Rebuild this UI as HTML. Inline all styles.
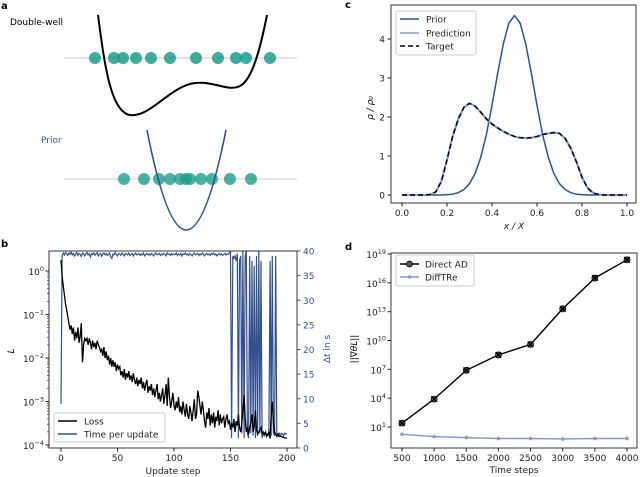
<!DOCTYPE html>
<html><head><meta charset="utf-8">
<style>
html,body{margin:0;padding:0;background:#fff;}
svg{display:block;font-family:"DejaVu Sans","Liberation Sans",sans-serif;}
</style></head>
<body>
<svg id="fig" width="640" height="477" viewBox="0 0 640 477" xmlns="http://www.w3.org/2000/svg">
<g>
<text x="1" y="9" font-size="10" font-weight="bold">a</text>
<text x="10" y="25" font-size="9">Double-well</text>
<line x1="64" y1="58" x2="297" y2="58" stroke="#c8c8c8" stroke-width="1"/>
<g id="dw-dots"></g>
<path d="M98,15 C104,60 110,112 130,115 C150,118 170,86 195,83 C215,81 228,92 240,86 C252,80 260,50 267,15" fill="none" stroke="#000" stroke-width="2"/>
<text x="41" y="143" font-size="9" fill="#3b5a9a">Prior</text>
<line x1="64" y1="179" x2="297" y2="179" stroke="#c8c8c8" stroke-width="1"/>
<g id="pr-dots"></g>
<path d="M147,130 Q186,330 226,130" fill="none" stroke="#34508f" stroke-width="1.6"/>
</g>
<g id="pb"></g>
<g id="pc"></g>
<g id="pd"></g>
</svg>
<script>
const NS="http://www.w3.org/2000/svg";
// panel a particle positions (schematic)
const dwDots=[95,114,123,136,151,170,196,218,236,246,270];
const prDots=[124,144,159,170,180,186,190,201,212,230,251];
// panel b data
const lossLog=[0.25,-0.1,-0.35,-0.55,-0.75,-0.9,-1.05,-1.2,-1.35,-1.25,
-1.45,-1.3,-1.6,-1.4,-1.55,-1.3,-1.65,-1.5,-1.2,-2.1,
-1.7,-1.55,-1.6,-1.55,-1.7,-1.55,-1.65,-1.8,-1.6,-1.75,
-1.65,-1.8,-1.6,-1.7,-1.75,-1.85,-1.8,-1.95,-1.75,-2.0,
-1.85,-2.05,-1.95,-2.15,-2.0,-2.2,-2.05,-2.2,-2.1,-2.3,
-2.15,-2.25,-2.2,-2.4,-2.3,-2.45,-2.25,-2.5,-2.35,-2.45,
-2.3,-2.5,-2.4,-2.55,-2.35,-2.5,-2.6,-2.45,-2.65,-2.5,
-2.6,-2.45,-2.7,-2.55,-2.75,-2.6,-2.5,-2.8,-2.65,-2.75,
-2.6,-2.85,-2.7,-2.9,-2.75,-2.6,-2.95,-2.8,-3.0,-2.85,
-2.7,-3.05,-2.85,-2.6,-3.1,-2.45,-2.9,-3.15,-3.0,-2.8,
-3.1,-3.2,-3.0,-3.15,-2.9,-3.25,-3.1,-3.3,-3.0,-3.2,
-3.35,-3.05,-3.3,-3.4,-3.1,-3.25,-3.45,-3.2,-2.95,-3.4,
-3.3,-2.75,-2.9,-3.1,-3.3,-3.0,-3.2,-3.45,-3.6,-3.25,
-3.4,-3.15,-3.55,-3.3,-3.5,-3.25,-3.6,-3.35,-3.45,-3.2,
-3.55,-3.3,-3.5,-3.4,-3.35,-3.6,-3.4,-3.3,-3.5,-3.45,
-3.65,-3.5,-3.6,-3.4,-3.7,-3.45,-3.55,-3.3,-3.6,-3.7,
-3.5,-3.2,-2.85,-3.4,-3.7,-3.6,-3.75,-3.6,-3.5,-3.3,
-3.7,-3.55,-3.2,-3.65,-3.75,-3.7,-3.65,-3.6,-3.75,-3.7,
-3.75,-3.7,-3.8,-3.75,-3.7,-3.85,-3.3,-3.0,-3.5,-3.7,
-3.75,-3.8,-3.75,-3.8,-3.8,-3.8,-3.82,-3.82,-3.84,-3.84,-3.84];
const timeVals=[9,39,39.6,39.2,39.7,39.4,39.1,39.6,39.3,39.8,
39.2,39.5,39.0,39.4,39.7,39.1,39.5,39.3,38.9,39.6,
39.4,39.0,39.5,39.7,39.2,39.4,38.8,39.5,39.3,39.6,
39.1,39.4,39.7,39.0,39.3,39.5,38.9,39.4,39.6,39.2,
39.5,39.1,39.3,39.6,38.8,38.5,39.4,39.2,39.7,39.3,
39.0,39.5,39.4,39.1,39.6,39.3,39.0,39.5,39.4,39.2,
39.6,39.1,39.3,39.5,39.0,39.4,39.6,39.2,39.3,39.5,
39.1,39.4,39.2,39.6,39.0,39.3,39.5,39.2,39.4,39.1,
39.5,39.3,39.0,39.4,39.6,39.2,39.3,39.5,39.1,39.4,
39.2,39.5,39.3,39.0,39.6,39.3,39.4,39.1,39.5,39.2,
39.4,39.3,39.6,39.1,39.4,39.2,39.5,39.0,39.4,39.3,
39.6,39.2,39.4,39.1,39.5,39.3,39.0,39.4,39.6,39.2,
39.3,39.5,39.1,39.4,39.2,39.6,39.3,39.0,39.4,39.5,
39.2,39.4,39.1,39.5,39.3,39.6,39.2,39.4,39.0,39.3,
39.5,39.2,39.4,39.1,39.3,39.5,39.2,39.4,39.3,39.6,
40,2,39,38.5,39,38,39.5,2,38,39,
3,40,2,39,40,3,2,39,3,38,
2.5,37,2,39,2.5,40,3,38,2,3,
2.5,3,2.5,2.5,2.5,38,2.5,39,3,2.5,
39,3,2.5,3,2.5,3,2.8,2.5,3,2.8,2.9];
const bXTicks=[0,50,100,150,200];
const bLogTicks=[0,-1,-2,-3,-4];
const bRTicks=[0,5,10,15,20,25,30,35,40];
// panel c data
const cX=[0,0.025,0.05,0.075,0.1,0.125,0.15,0.175,0.2,0.225,0.25,0.275,0.3,0.325,0.35,0.375,0.4,0.425,0.45,0.475,0.5,0.525,0.55,0.575,0.6,0.625,0.65,0.675,0.7,0.725,0.75,0.775,0.8,0.825,0.85,0.875,0.9,0.925,0.95,0.975,1];
const cPrior=[0,0,0,0,0,0,0,0,0.01,0.02,0.06,0.14,0.29,0.55,0.97,1.55,2.3,3.11,3.87,4.41,4.6,4.41,3.87,3.11,2.3,1.55,0.97,0.55,0.29,0.14,0.06,0.02,0.01,0,0,0,0,0,0,0,0];
const cTarget=[0,0,0,0,0,0.01,0.08,0.35,0.9,1.5,1.95,2.25,2.35,2.28,2.12,1.95,1.82,1.72,1.63,1.56,1.5,1.47,1.46,1.47,1.5,1.55,1.58,1.6,1.58,1.45,1.2,0.85,0.45,0.18,0.05,0.01,0,0,0,0,0];
const cPrediction=[0,0,0,0,0,0.01,0.08,0.35,0.9,1.5,1.95,2.25,2.35,2.28,2.12,1.95,1.82,1.72,1.63,1.56,1.5,1.47,1.46,1.47,1.5,1.55,1.58,1.6,1.58,1.45,1.2,0.85,0.45,0.18,0.05,0.01,0,0,0,0,0];
const cXTicks=[0,0.2,0.4,0.6,0.8,1.0];
const cYTicks=[0,1,2,3,4];
// panel d data
const dSteps=[500,1000,1500,2000,2500,3000,3500,4000];
const dDirectLog=[1.4,3.9,6.9,8.5,9.6,13.3,16.5,18.4];
const dDiffLog=[0.24,0.0,-0.1,-0.2,-0.2,-0.25,-0.2,-0.2];
const dXTicks=[500,1000,1500,2000,2500,3000,3500,4000];
const dYTicks=[1,4,7,10,13,16,19];

const BLUE="#34508f", LIGHT="#8a9cc6";
function el(tag,attrs,parent){const e=document.createElementNS(NS,tag);for(const k in attrs)e.setAttribute(k,attrs[k]);parent.appendChild(e);return e;}
function txt(s,attrs,parent){const e=el('text',attrs,parent);e.textContent=s;return e;}
function pow10(e,x,y,anchor,parent,fill){const t=el('text',{x:x,y:y,'font-size':9,'text-anchor':anchor,fill:fill||'#222'},parent);
 
 const a=document.createElementNS(NS,'tspan');a.textContent='10';t.appendChild(a);
 const b=document.createElementNS(NS,'tspan');b.setAttribute('dy','-4');b.setAttribute('font-size','6.5');b.textContent=(e<0?'\u2212'+(-e):''+e);t.appendChild(b);}

// panel a dots
const dwg=document.getElementById('dw-dots');
dwDots.forEach(x=>{const c=el('circle',{cx:x,cy:58,r:6,fill:'#1f9e8a','fill-opacity':0.85},dwg);});
const prg=document.getElementById('pr-dots');
prDots.forEach(x=>{const c=el('circle',{cx:x,cy:179,r:6,fill:'#1f9e8a','fill-opacity':0.8},prg);});

// ---------- panel b ----------
(function(){
const g=document.getElementById('pb');
const L=49,R=297,T=251,B=448;
const xs=v=>61+(v/200)*(287-61);
const yl=lg=>271+(0-lg)*43.5;
const yr=v=>B-(v/40)*(B-T);
const lbl=txt('b',{x:1,y:247,'font-size':10,'font-weight':'bold'},g);

const clip=el('clipPath',{id:'clipb'},g);el('rect',{x:L,y:T,width:R-L,height:B-T},clip);
let p='';timeVals.forEach((v,i)=>{p+=(i?'L':'M')+xs(i).toFixed(1)+','+yr(v).toFixed(1);});
const tl=el('path',{d:p,fill:'none',stroke:BLUE,'stroke-width':1.2,'clip-path':'url(#clipb)'},g);

p='';lossLog.forEach((v,i)=>{p+=(i?'L':'M')+xs(i).toFixed(1)+','+yl(v).toFixed(1);});
const ll=el('path',{d:p,fill:'none',stroke:'#000','stroke-width':1.3,'clip-path':'url(#clipb)'},g);

const fr=el('rect',{x:L,y:T,width:R-L,height:B-T,fill:'none',stroke:'#222','stroke-width':0.9},g);

bXTicks.forEach(v=>{el('line',{x1:xs(v),y1:B,x2:xs(v),y2:B+3.5,stroke:'#222'},g);
 const t=txt(v,{x:xs(v),y:B+13,'font-size':9,'text-anchor':'middle',fill:'#222'},g);});
bLogTicks.forEach(v=>{el('line',{x1:L-3.5,y1:yl(v),x2:L,y2:yl(v),stroke:'#222'},g);pow10(v,L-5,yl(v)+4,'end',g);
 for(let k=2;k<10;k++){const y=yl(v-1+Math.log10(k));if(y>T&&y<B)el('line',{x1:L-2,y1:y,x2:L,y2:y,stroke:'#222','stroke-width':0.6},g);}});
bRTicks.forEach(v=>{el('line',{x1:R,y1:yr(v),x2:R+3.5,y2:yr(v),stroke:BLUE},g);
 const t=txt(v,{x:R+6,y:yr(v)+3.5,'font-size':9,fill:BLUE},g);});
let t=txt('Update step',{x:173,y:474,'font-size':9,'text-anchor':'middle',fill:'#222'},g);
t=txt('L',{x:0,y:0,'font-size':9,'font-style':'italic','text-anchor':'middle',transform:'translate(14,351) rotate(-90)'},g);
t=txt('\u0394t in s',{x:0,y:0,'font-size':9,'text-anchor':'middle',fill:BLUE,transform:'translate(330,349) rotate(-90)'},g);
const lg=el('g',{},g);
el('rect',{x:54,y:413,width:111,height:29,fill:'#fff',stroke:'#ccc',rx:2},lg);
el('line',{x1:58,y1:421,x2:77,y2:421,stroke:'#000','stroke-width':1.5},lg);
t=txt('Loss',{x:84,y:424.5,'font-size':9,fill:'#222'},lg);
el('line',{x1:58,y1:434,x2:77,y2:434,stroke:BLUE,'stroke-width':1.5},lg);
t=txt('Time per update',{x:84,y:437.5,'font-size':9,fill:'#222'},lg);
})();

// ---------- panel c ----------
(function(){
const g=document.getElementById('pc');
const L=391,R=636,T=5,B=203;
const xs=v=>402+v*(627-402);
const ys=v=>195-v*39;
const lbl=txt('c',{x:345,y:8,'font-size':10,'font-weight':'bold'},g);

function line(arr,attrs,name){let p='';arr.forEach((v,i)=>{p+=(i?'L':'M')+xs(cX[i]).toFixed(1)+','+ys(v).toFixed(1);});
 const e=el('path',Object.assign({d:p,fill:'none','stroke-linejoin':'round'},attrs),g);}
line(cPrior,{stroke:BLUE,'stroke-width':1.5},'prior-line');
line(cPrediction,{stroke:LIGHT,'stroke-width':2.2},'prediction-line');
line(cTarget,{stroke:'#000','stroke-width':1.4,'stroke-dasharray':'5,3'},'target-line');
const fr=el('rect',{x:L,y:T,width:R-L,height:B-T,fill:'none',stroke:'#222','stroke-width':0.9},g);

cXTicks.forEach(v=>{el('line',{x1:xs(v),y1:B,x2:xs(v),y2:B+3.5,stroke:'#222'},g);
 const t=txt(v.toFixed(1),{x:xs(v),y:B+13,'font-size':9,'text-anchor':'middle',fill:'#222'},g);});
cYTicks.forEach(v=>{el('line',{x1:L-3.5,y1:ys(v),x2:L,y2:ys(v),stroke:'#222'},g);
 const t=txt(v,{x:L-6,y:ys(v)+3.5,'font-size':9,'text-anchor':'end',fill:'#222'},g);});
let t=txt('x / X',{x:514,y:229,'font-size':9,'font-style':'italic','text-anchor':'middle',fill:'#222'},g);
t=txt('\u03c1 / \u03c1\u2080',{x:0,y:0,'font-size':9,'font-style':'italic','text-anchor':'middle',transform:'translate(373,108) rotate(-90)'},g);
const lg=el('g',{},g);
el('rect',{x:396,y:11,width:80,height:44,fill:'#fff',stroke:'#ccc',rx:2},lg);
[['Prior',BLUE,19,null],['Prediction',LIGHT,33,null],['Target','#000',46,'5,3']].forEach(a=>{
 const l=el('line',{x1:400,y1:a[2],x2:419,y2:a[2],stroke:a[1],'stroke-width':1.6},lg);if(a[3])l.setAttribute('stroke-dasharray',a[3]);
 const tt=txt(a[0],{x:426,y:a[2]+3.5,'font-size':9,fill:'#222'},lg);});
})();

// ---------- panel d ----------
(function(){
const g=document.getElementById('pd');
const L=391,R=637,T=253,B=448;
const xs=v=>402+(v-500)/3500*(627-402);
const ys=lg=>427-(lg-1)*9.61;
const lbl=txt('d',{x:345,y:250,'font-size':10,'font-weight':'bold'},g);

let p='';dDiffLog.forEach((v,i)=>{p+=(i?'L':'M')+xs(dSteps[i]).toFixed(1)+','+ys(v).toFixed(1);});
let e=el('path',{d:p,fill:'none',stroke:LIGHT,'stroke-width':1.5},g);
dDiffLog.forEach((v,i)=>{const c=el('circle',{cx:xs(dSteps[i]),cy:ys(v),r:1.8,fill:LIGHT},g);});
p='';dDirectLog.forEach((v,i)=>{p+=(i?'L':'M')+xs(dSteps[i]).toFixed(1)+','+ys(v).toFixed(1);});
e=el('path',{d:p,fill:'none',stroke:'#000','stroke-width':1.4},g);
dDirectLog.forEach((v,i)=>{const x=xs(dSteps[i]),y=ys(v);
 const m=el('g',{},g);
 el('circle',{cx:x,cy:y,r:3,fill:'#555',stroke:'#000','stroke-width':0.8},m);
 el('path',{d:`M${x-2.8},${y-2.8}L${x+2.8},${y+2.8}M${x-2.8},${y+2.8}L${x+2.8},${y-2.8}`,stroke:'#000','stroke-width':1.3},m);});
const fr=el('rect',{x:L,y:T,width:R-L,height:B-T,fill:'none',stroke:'#222','stroke-width':0.9},g);

dXTicks.forEach(v=>{el('line',{x1:xs(v),y1:B,x2:xs(v),y2:B+3.5,stroke:'#222'},g);
 const t=txt(v,{x:xs(v),y:B+13,'font-size':9,'text-anchor':'middle',fill:'#222'},g);});
dYTicks.forEach(v=>{el('line',{x1:L-3.5,y1:ys(v),x2:L,y2:ys(v),stroke:'#222'},g);pow10(v,L-5,ys(v)+4,'end',g);});
let t=txt('Time steps',{x:514,y:473,'font-size':9,'text-anchor':'middle',fill:'#222'},g);
t=txt('||\u2207\u03b8L||',{x:0,y:0,'font-size':9,'font-style':'italic','text-anchor':'middle',transform:'translate(357,349) rotate(-90)'},g);
const lg=el('g',{},g);
el('rect',{x:396,y:255,width:78,height:31,fill:'#fff',stroke:'#ccc',rx:2},lg);
el('line',{x1:400,y1:264,x2:419,y2:264,stroke:'#000','stroke-width':1.4},lg);
el('circle',{cx:409.5,cy:264,r:3,fill:'#555',stroke:'#000','stroke-width':0.8},lg);
t=txt('Direct AD',{x:425,y:267.5,'font-size':9,fill:'#222'},lg);
el('line',{x1:400,y1:277,x2:419,y2:277,stroke:LIGHT,'stroke-width':1.5},lg);
el('circle',{cx:409.5,cy:277,r:1.8,fill:LIGHT},lg);
t=txt('DiffTRe',{x:425,y:280.5,'font-size':9,fill:'#222'},lg);
})();
</script>
</body></html>
